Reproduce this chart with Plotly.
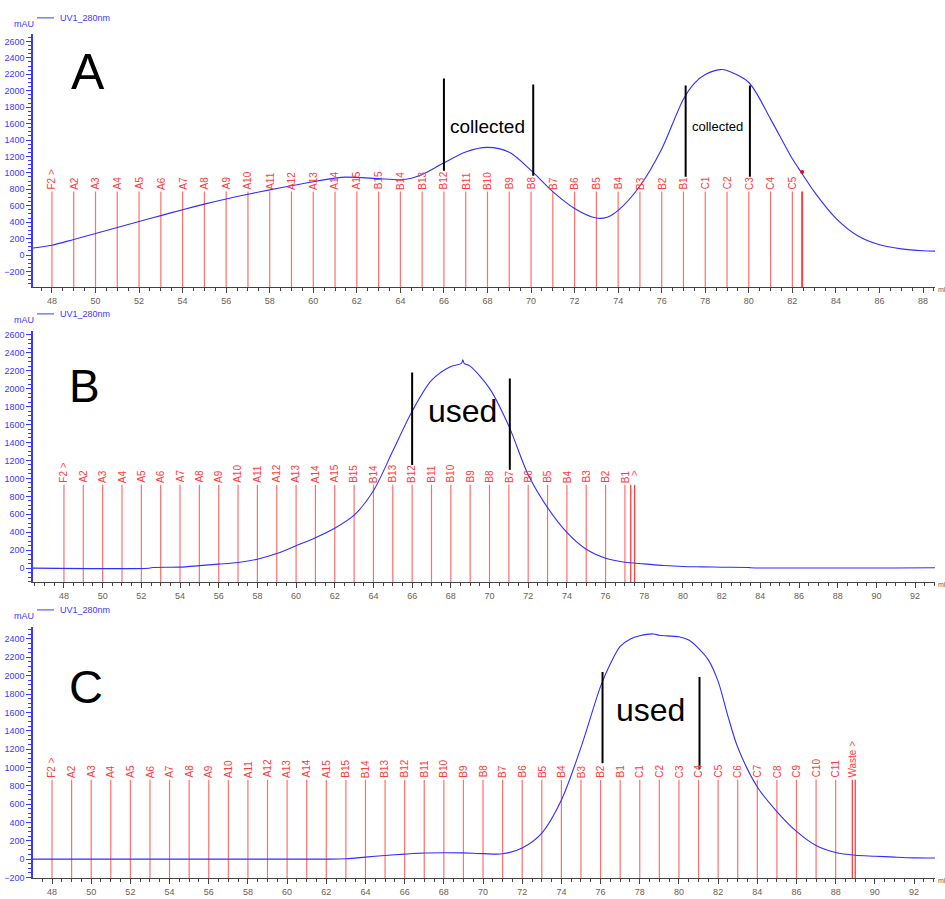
import plotly.graph_objects as go

W, H = 945, 899

# ---------------- data ----------------
# Panel A UV trace
a_x = [47.13, 48, 49, 50, 51, 52, 53, 54, 55, 56, 57, 58, 59, 60, 61, 61.5, 62, 63, 64, 64.5, 65, 66, 67, 68, 69,
       70, 71, 72, 73, 73.5, 74, 75, 76, 77, 77.5, 78, 78.7, 79, 80, 81, 82, 82.45, 83, 84, 85, 86, 87, 88, 88.55]
a_y = [85, 120, 190, 262, 335, 408, 480, 552, 620, 683, 740, 793, 843, 893, 936, 948, 945, 930, 917, 935, 980, 1122,
       1255, 1310, 1250, 1030, 772, 567, 450, 460, 543, 840, 1291, 1900, 2090, 2197, 2257, 2245, 2100, 1654, 1171,
       990, 772, 447, 235, 125, 75, 52, 48]

# Panel B UV trace
b_x = [46.4, 52.4, 52.6, 54, 55, 56, 57, 58, 59, 60, 61, 62, 63, 64, 65, 66, 67, 68, 68.55, 68.62, 68.69, 69, 70, 71,
       72, 73, 74, 75, 76, 77, 78, 79, 80, 81, 82, 83.4, 83.5, 93.03]
b_y = [0, 0, 8, 12, 28, 45, 64, 100, 163, 250, 340, 445, 590, 863, 1305, 1748, 2091, 2246, 2280, 2320, 2282, 2250,
       2002, 1582, 1040, 675, 398, 210, 111, 66, 48, 30, 19, 15, 11, 8, 5, 5]

# Panel C UV trace
c_x = [47.03, 62, 63, 64, 65, 66, 67, 68, 69, 70, 71, 72, 73, 74, 75, 76, 76.5, 77, 77.5, 78, 78.7, 79, 80, 80.5,
       81, 81.5, 82, 82.5, 83, 84, 85, 86, 87, 88, 89, 90, 91, 92, 93.07]
c_y = [0, 0, 4, 22, 40, 54, 66, 70, 68, 60, 58, 122, 284, 644, 1219, 1884, 2130, 2320, 2398, 2435, 2455, 2440, 2424,
       2388, 2298, 2172, 1938, 1560, 1219, 787, 518, 302, 148, 72, 42, 32, 22, 14, 12]

a_wells = ["F2 >"] + [f"A{i}" for i in range(2, 16)] + [f"B{i}" for i in range(15, 0, -1)] + [f"C{i}" for i in range(1, 6)]
a_frac_x = list(range(48, 48 + len(a_wells)))
b_wells = ["F2 >"] + [f"A{i}" for i in range(2, 16)] + [f"B{i}" for i in range(15, 0, -1)]
b_frac_x = list(range(48, 48 + len(b_wells)))
c_wells = ["F2 >"] + [f"A{i}" for i in range(2, 16)] + [f"B{i}" for i in range(15, 0, -1)] + [f"C{i}" for i in range(1, 12)]
c_frac_x = list(range(48, 48 + len(c_wells)))

# extra fraction marks (end of collection)
a_end_x = [82.45]
b_end_x = [77.3, 77.5]
c_end_x = [88.85, 89.0]

# black cut marks
a_cut_x = [66.0, 70.1, 77.1, 80.05]
a_cut_top = [2148, 2076, 2064, 2064]
a_cut_bot = [1026, 966, 954, 954]
b_cut_x = [66.0, 71.05]
b_cut_top = [2179, 2113]
b_cut_bot = [1150, 1095]
c_cut_x = [76.1, 81.05]
c_cut_top = [2039, 1985]
c_cut_bot = [1046, 982]

# ---------------- layout geometry ----------------
panels = [
    dict(name="A", xr=[47.13, 88.55], yr=[-390, 2693], top=33, bot=288, x=a_x, y=a_y,
         fx=a_frac_x, fl=a_wells, ftop=772, ex=a_end_x, cx=a_cut_x, ct=a_cut_top, cb=a_cut_bot,
         leg_y=17),
    dict(name="B", xr=[46.4, 93.03], yr=[-155, 2644], top=332, bot=585, x=b_x, y=b_y,
         fx=b_frac_x, fl=b_wells, ftop=929, ex=b_end_x, cx=b_cut_x, ct=b_cut_top, cb=b_cut_bot,
         leg_y=315),
    dict(name="C", xr=[47.03, 93.07], yr=[-207, 2533], top=630, bot=883, x=c_x, y=c_y,
         fx=c_frac_x, fl=c_wells, ftop=865, ex=c_end_x, cx=c_cut_x, ct=c_cut_top, cb=c_cut_bot,
         leg_y=613),
]

X0, X1 = 33, 935
def px(v):
    return v / W
def py(v):
    return 1 - v / H

FONT = "Liberation Sans, Arial, sans-serif"
RED_LINE = "rgba(255,50,50,0.7)"
RED_TXT = "#ff3b3b"
BLUE = "#3a3aff"

fig = go.Figure()
annotations = []
shapes = []

for i, p in enumerate(panels):
    n = "" if i == 0 else str(i + 1)
    xa, ya = "x" + n, "y" + n
    ymin = p["yr"][0]
    # fraction lines
    lx, ly = [], []
    for fx in p["fx"]:
        lx += [fx, fx, None]
        ly += [ymin, p["ftop"], None]
    fig.add_trace(go.Scatter(x=lx, y=ly, mode="lines", line=dict(color=RED_LINE, width=1.2),
                             xaxis=xa, yaxis=ya, showlegend=False, hoverinfo="skip"))
    ex_x, ex_y = [], []
    for e in p["ex"]:
        ex_x += [e, e, None]
        ex_y += [ymin, p["ftop"], None]
    fig.add_trace(go.Scatter(x=ex_x, y=ex_y, mode="lines",
                             line=dict(color="rgba(255,30,30,0.85)", width=2 if i == 0 else 1.3),
                             xaxis=xa, yaxis=ya, showlegend=False, hoverinfo="skip"))
    # fraction labels
    for fx, lab in zip(p["fx"], p["fl"]):
        annotations.append(dict(x=fx, y=p["ftop"], xref=xa, yref=ya, text=lab, textangle=-90,
                                showarrow=False, xanchor="center", yanchor="bottom",
                                font=dict(family=FONT, size=10, color=RED_TXT)))
    # UV trace
    fig.add_trace(go.Scatter(x=p["x"], y=p["y"], mode="lines",
                             line=dict(color="#2f2fff", width=1.1, shape="spline", smoothing=0.85),
                             xaxis=xa, yaxis=ya, showlegend=False, hoverinfo="skip"))
    # black cut marks
    kx, ky = [], []
    for cx, ct, cb in zip(p["cx"], p["ct"], p["cb"]):
        kx += [cx, cx, None]
        ky += [cb, ct, None]
    fig.add_trace(go.Scatter(x=kx, y=ky, mode="lines", line=dict(color="black", width=2),
                             xaxis=xa, yaxis=ya, showlegend=False, hoverinfo="skip"))

    dom_y = [py(p["bot"]), py(p["top"])]
    fig.update_layout(**{
        ("xaxis" + n): dict(domain=[px(X0), px(X1)], range=p["xr"], anchor=ya, showgrid=False, zeroline=False,
                            showline=True, linecolor="#444", linewidth=1, ticks="outside", ticklen=5, tickwidth=1,
                            tickcolor="#444", dtick=2, tick0=0,
                            minor=dict(dtick=0.5, tick0=0, ticks="outside", ticklen=3, tickcolor="#444"),
                            tickfont=dict(family=FONT, size=9, color="#6e5e50")),
        ("yaxis" + n): dict(domain=dom_y, range=p["yr"], anchor=xa, showgrid=False, zeroline=False,
                            showline=True, linecolor=BLUE, linewidth=1.5, ticks="outside", ticklen=5, tickwidth=1,
                            tickcolor=BLUE, dtick=200, tick0=0,
                            minor=dict(dtick=50, tick0=0, ticks="outside", ticklen=3, tickcolor=BLUE),
                            tickfont=dict(family=FONT, size=9, color=BLUE)),
    })

    # legend-like header
    ly_ = p["leg_y"]
    shapes.append(dict(type="line", xref="paper", yref="paper", x0=px(37), x1=px(54), y0=py(ly_), y1=py(ly_),
                       line=dict(color=BLUE, width=1)))
    annotations.append(dict(x=px(58), y=py(ly_), xref="paper", yref="paper", text="UV1_280nm", showarrow=False,
                            xanchor="left", yanchor="middle", font=dict(family=FONT, size=9, color=BLUE)))
    annotations.append(dict(x=px(24), y=py(ly_ + 6), xref="paper", yref="paper", text="mAU", showarrow=False,
                            xanchor="center", yanchor="middle", font=dict(family=FONT, size=9, color=BLUE)))
    annotations.append(dict(x=px(935.5), y=py(p["bot"] + 2), xref="paper", yref="paper", text="ml", showarrow=False,
                            xanchor="left", yanchor="middle", font=dict(family=FONT, size=7, color="#6e5e50")))

# end-of-run marker in A
fig.add_trace(go.Scatter(x=a_end_x, y=[1010], mode="markers", marker=dict(color="red", size=4, symbol="circle"),
                         xaxis="x", yaxis="y", showlegend=False, hoverinfo="skip"))
# ">" marker label in B
annotations.append(dict(x=b_end_x[-1], y=1000, xref="x2", yref="y2", text=">", textangle=-90, showarrow=False,
                        xanchor="center", yanchor="bottom", font=dict(family=FONT, size=10, color=RED_TXT)))
# "Waste >" in C
annotations.append(dict(x=c_end_x[0], y=865, xref="x3", yref="y3", text="Waste >", textangle=-90, showarrow=False,
                        xanchor="center", yanchor="bottom", font=dict(family=FONT, size=10, color=RED_TXT)))

# panel letters
for letter, cx_, cy_, sz in [("A", 87.5, 71, 50), ("B", 84.5, 388, 46), ("C", 86, 690, 47)]:
    annotations.append(dict(x=px(cx_), y=py(cy_), xref="paper", yref="paper", text=letter, showarrow=False,
                            xanchor="center", yanchor="middle", font=dict(family=FONT, size=sz, color="black")))

# region texts
annotations.append(dict(x=68.0, y=1560, xref="x", yref="y", text="collected", showarrow=False,
                        font=dict(family=FONT, size=19, color="black")))
annotations.append(dict(x=78.55, y=1560, xref="x", yref="y", text="collected", showarrow=False,
                        font=dict(family=FONT, size=13, color="black")))
annotations.append(dict(x=68.59, y=1748, xref="x2", yref="y2", text="used", showarrow=False,
                        font=dict(family=FONT, size=32, color="black")))
annotations.append(dict(x=78.57, y=1622, xref="x3", yref="y3", text="used", showarrow=False,
                        font=dict(family=FONT, size=32, color="black")))

fig.update_layout(width=W, height=H, margin=dict(l=0, r=0, t=0, b=0), paper_bgcolor="white",
                  plot_bgcolor="white", annotations=annotations, shapes=shapes, showlegend=False)

fig.write_html("out.html")
